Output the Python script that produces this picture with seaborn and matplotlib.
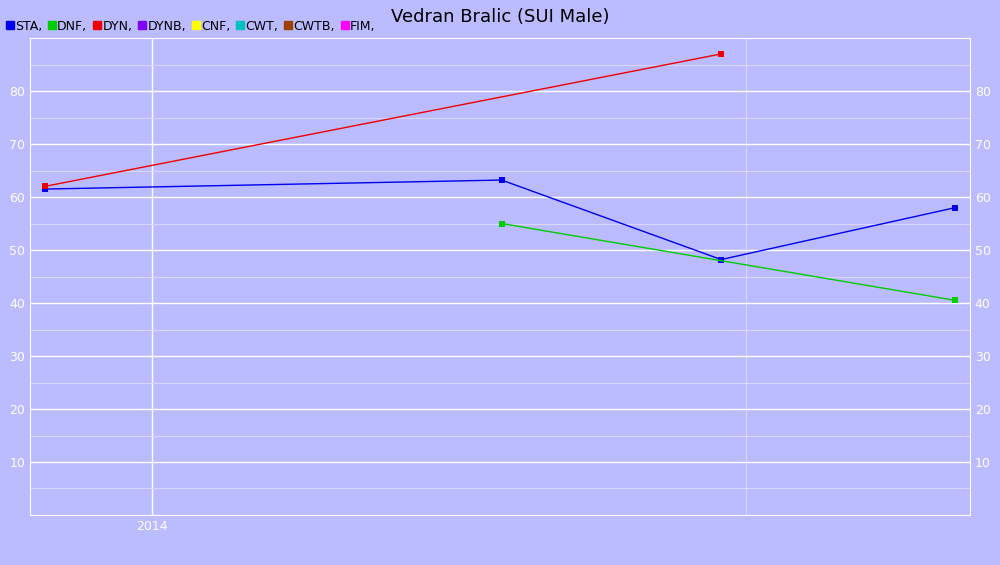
import pandas as pd
import matplotlib.pyplot as plt
import matplotlib.dates as mdates
from matplotlib.lines import Line2D
import seaborn as sns

sta_dates = ['2013-10-27', '2014-08-04', '2014-12-17', '2015-05-10']
sta_vals = [61.5, 63.2, 48.2, 58.0]
dnf_dates = ['2014-08-04', '2015-05-10']
dnf_vals = [55.0, 40.5]
dyn_dates = ['2013-10-27', '2014-12-17']
dyn_vals = [62.0, 87.0]
legend_names = ['STA', 'DNF', 'DYN', 'DYNB', 'CNF', 'CWT', 'CWTB', 'FIM']
legend_colors = ['#0000ee', '#00cc00', '#ee0000', '#7f00ff', '#ffff00', '#00c0c0', '#a04000', '#ff00ff']

bg = '#bbbbff'
sns.set_style('white')
fig = plt.figure(figsize=(10, 5.65), dpi=100, facecolor=bg)
ax = fig.add_axes([0.03, 0.0885, 0.94, 0.8442], facecolor=bg)

for d, v, c in [(sta_dates, sta_vals, legend_colors[0]),
                (dnf_dates, dnf_vals, legend_colors[1]),
                (dyn_dates, dyn_vals, legend_colors[2])]:
    df = pd.DataFrame({'date': pd.to_datetime(d), 'val': v})
    sns.lineplot(data=df, x='date', y='val', ax=ax, color=c, lw=1,
                 marker='s', markersize=4, markeredgewidth=0)

ax.set_xlim(pd.Timestamp('2013-10-18'), pd.Timestamp('2015-05-19'))
ax.set_ylim(0, 90)
ax.set_yticks(range(10, 90, 10))
ax.set_yticks(range(5, 90, 10), minor=True)
ax.set_xticks([pd.Timestamp('2014-01-01')])
ax.xaxis.set_major_formatter(mdates.DateFormatter('%Y'))
ax.grid(True, which='major', color='white', lw=1)
ax.grid(True, which='minor', axis='y', color='#d8d8ff', lw=0.8)
ax.axvline(pd.Timestamp('2015-01-01'), color='#d8d8ff', lw=0.8, zorder=0)
ax.set_axisbelow(True)
ax.tick_params(axis='both', colors='white', labelsize=9, length=0)
ax.tick_params(axis='y', labelright=True, right=True)
ax.set_xlabel('')
ax.set_ylabel('')
for s in ax.spines.values():
    s.set_color('white')

fig.text(0.5, 0.985, 'Vedran Bralic (SUI Male)', ha='center', va='top', fontsize=13, color='black')
handles = [Line2D([], [], ls='', marker='s', color=c, markersize=6) for c in legend_colors]
leg = fig.legend(handles, [n + ',' for n in legend_names], loc='upper left',
                 bbox_to_anchor=(-0.005, 0.985), ncol=8, frameon=False, fontsize=9,
                 handlelength=0.6, handletextpad=0.1, columnspacing=0.5)
for t in leg.get_texts():
    t.set_color('black')

fig.savefig('out.png', dpi=100, facecolor=bg)
